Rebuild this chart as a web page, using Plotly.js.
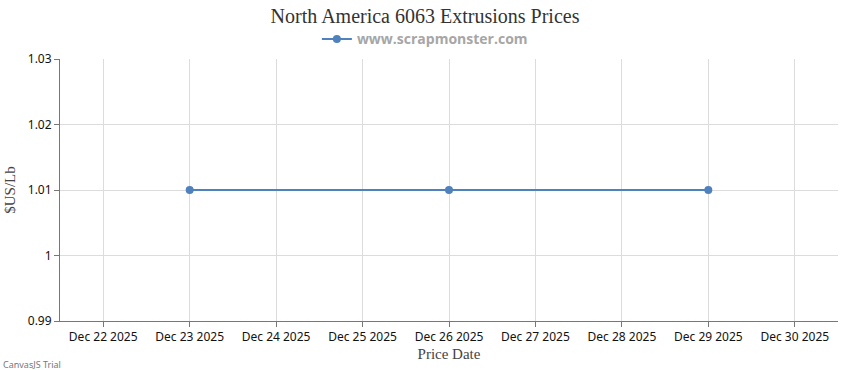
<!DOCTYPE html>
<html>
<head>
<meta charset="utf-8">
<script src="https://cdn.plot.ly/plotly-3.0.1.min.js"></script>
<style>html,body{margin:0;padding:0;background:#fff;}#chart{width:850px;height:370px;}</style>
</head>
<body>
<div id="chart"></div>
<script>
var priceDates = ["2025-12-23", "2025-12-26", "2025-12-29"];
var priceValues = [1.01, 1.01, 1.01];
var seriesName = "www.scrapmonster.com";
var chartTitle = "North America 6063 Extrusions Prices";
var xTitle = "Price Date";
var yTitle = "$US/Lb";

var trace = {
  x: priceDates,
  y: priceValues,
  type: "scatter",
  mode: "lines+markers",
  name: seriesName,
  line: {color: "#4f81bc", width: 2},
  marker: {color: "#4f81bc", size: 8},
  showlegend: true
};

var layout = {
  width: 850, height: 370,
  margin: {l: 60, r: 12, t: 59, b: 49, autoexpand: false},
  paper_bgcolor: "#fff", plot_bgcolor: "#fff",
  title: {text: chartTitle, x: 0.5, xref: "container", xanchor: "center", y: 0.958, yanchor: "middle",
          font: {family: "Liberation Serif", size: 20, color: "#333"}},
  showlegend: true,
  legend: {orientation: "h", xref: "paper", x: 0.469, xanchor: "center", y: 1.075, yanchor: "middle",
           itemwidth: 30, font: {family: "Open Sans", size: 14, color: "#a6a6a6", weight: "bold"}},
  xaxis: {
    type: "date",
    range: ["2025-12-21 12:00", "2025-12-30 12:00"],
    tick0: "2025-12-22", dtick: 86400000,
    tickformat: "%b %d %Y", tickangle: 0,
    showgrid: true, gridcolor: "#dcdcdc", gridwidth: 1,
    showline: true, linecolor: "#777", linewidth: 1,
    ticks: "outside", ticklen: 5, tickcolor: "#777",
    tickfont: {family: "Noto Sans", size: 12, color: "#111"},
    title: {text: xTitle, font: {family: "Liberation Serif", size: 15, color: "#444"}, standoff: 4},
    zeroline: false, fixedrange: true
  },
  yaxis: {
    range: [0.99, 1.03], dtick: 0.01, tick0: 0.99,
    showgrid: true, gridcolor: "#dcdcdc", gridwidth: 1,
    showline: true, linecolor: "#777", linewidth: 1,
    ticks: "outside", ticklen: 5, tickcolor: "#777",
    tickfont: {family: "Noto Sans", size: 12, color: "#111"},
    title: {text: yTitle, font: {family: "Liberation Serif", size: 15, color: "#444"}, standoff: 8},
    zeroline: false, fixedrange: true
  },
  annotations: [{
    text: "CanvasJS Trial", xref: "paper", yref: "paper", x: 0, y: 0,
    xanchor: "left", yanchor: "top", xshift: -59, yshift: -35, showarrow: false,
    font: {family: "Noto Sans", size: 9, color: "#777"}
  }]
};

Plotly.newPlot("chart", [trace], layout, {displayModeBar: false, staticPlot: true});
</script>
</body>
</html>
